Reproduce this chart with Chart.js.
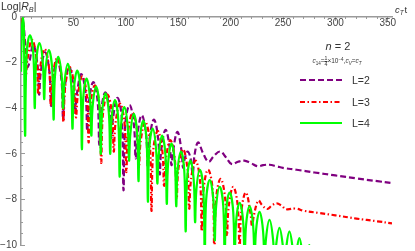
<!DOCTYPE html>
<html><head><meta charset="utf-8">
<script src="https://cdn.jsdelivr.net/npm/chart.js@4.4.0/dist/chart.umd.min.js"></script>
<style>
html,body{margin:0;padding:0;background:#fff;}
#wrap{position:relative;width:415px;height:251px;overflow:hidden;font-family:'Liberation Sans',Arial,sans-serif;color:#333;}
canvas{position:absolute;left:0;top:0;}
.t{position:absolute;white-space:nowrap;line-height:1;}
.sb{font-size:70%;position:relative;top:0.3em;}
.sp{font-size:70%;position:relative;top:-0.45em;}
.fr{display:inline-block;vertical-align:middle;text-align:center;font-size:80%;line-height:0.95;}
.fr span{display:block;}
.fr span.n{border-bottom:0.5px solid #333;}
</style></head><body>
<div id="wrap">
<canvas id="c" width="415" height="251"></canvas>
<div class="t" style="left:1px;top:1px;font-size:10.5px;">Log|<i>R</i><i class="sb">B</i>|</div>
<div class="t" style="left:395px;top:5px;font-size:9.5px;"><i>c</i><i class="sb">T</i>&#8202;t</div>
<div class="t" style="left:338px;top:41px;font-size:11px;transform:translateX(-50%);"><i>n</i> = 2</div>
<div class="t" style="left:337px;top:56px;font-size:6.5px;transform:translateX(-50%);"><i>c</i><span class="sb">14</span>=<span class="fr"><span class="n">1</span><span>4</span></span>×10<span class="sp">−4</span>,<i>c</i><i class="sb">V</i>=<i>c</i><i class="sb">T</i></div>
<div class="t" style="left:352px;top:75px;font-size:10.5px;">L=2</div>
<div class="t" style="left:352px;top:97px;font-size:10.5px;">L=3</div>
<div class="t" style="left:352px;top:118px;font-size:10.5px;">L=4</div>
</div>
<script>
const seriesNames = ['L=2', 'L=3', 'L=4'];

const tL2 = [0, 1.5, 3.0, 5.8,
  7.5, 11.6, 15.7, 17.3,
  18.9, 23.0, 27.1, 28.7,
  30.4, 34.5, 38.6, 40.2,
  41.9, 46.0, 50.1, 51.7,
  53.4, 57.5, 61.6, 63.2,
  64.9, 69.0, 73.1, 74.7,
  76.4, 80.5, 84.6, 86.2,
  87.9, 92.0, 96.1, 97.8,
  99.5, 103.6, 107.7, 109.4,
  111.1, 115.2, 119.3, 121.0,
  122.7, 126.8, 130.9, 132.4,
  133.9, 138.0, 142.1, 143.6,
  145.1, 149.2, 153.1, 154.6,
  156.3, 159.0, 161.8, 163.8,
  165.6, 169.0, 173.5, 179.0,
  184.0, 190.0, 195.5, 201.0,
  207.0, 213.0, 219.0, 226.0,
  231.0, 237.0, 244.0, 250.0, 263.0, 280.0, 300.0, 320.0, 340.0, 354.0];
const yL2 = [-0.5, -0.15, -0.6, -2.2,
  -2.08, -1.23, -2.08, -3.4,
  -2.40, -1.55, -2.40, -3.9,
  -2.75, -1.90, -2.75, -4.5,
  -3.05, -2.20, -3.05, -4.2,
  -3.35, -2.50, -3.35, -5.0,
  -3.70, -2.85, -3.70, -5.6,
  -4.15, -3.30, -4.15, -5.3,
  -4.40, -3.55, -4.40, -7.6,
  -4.71, -3.86, -4.71, -6.2,
  -5.15, -4.30, -5.15, -6.6,
  -5.35, -4.50, -5.35, -6.9,
  -5.80, -4.95, -5.80, -6.5,
  -5.89, -5.04, -5.85, -6.6,
  -6.20, -5.90, -6.20, -6.9,
  -6.05, -5.50, -5.95, -6.35,
  -6.10, -5.90, -6.15, -6.45,
  -6.35, -6.30, -6.40, -6.55,
  -6.50, -6.48, -6.55, -6.62, -6.70, -6.82, -6.95, -7.08, -7.20, -7.28];

const tL3 = [0, 1.2, 2.6, 4.6,
  6.2, 10.5, 14.8, 16.5,
  18.2, 22.5, 26.8, 28.5,
  30.2, 34.5, 38.8, 40.5,
  42.2, 46.5, 50.8, 52.5,
  54.2, 58.5, 62.8, 64.5,
  66.2, 70.5, 74.8, 76.5,
  78.2, 82.5, 86.8, 88.5,
  90.2, 94.5, 98.8, 100.5,
  102.2, 106.5, 110.8, 112.5,
  114.2, 118.5, 122.8, 124.5,
  126.2, 130.5, 134.8, 136.5,
  138.2, 142.5, 146.8, 148.5,
  150.2, 154.5, 158.8, 160.5,
  162.2, 166.5, 170.8, 172.5,
  174.2, 178.5, 182.8, 184.5,
  186.2, 190.5, 194.8, 196.5,
  198.2, 202.5, 206.8, 208.5,
  210.2, 214.5, 218.8, 220.5,
  222.2, 226.5, 230.0, 235.0,
  239.5, 244.0, 248.5, 253.0,
  262.0, 270.0, 285.0, 300.0, 320.0, 340.0, 354.0];
const yL3 = [-0.3, -0.1, -0.6, -2.6,
  -1.85, -1.00, -1.85, -3.4,
  -2.25, -1.40, -2.25, -3.9,
  -2.65, -1.80, -2.65, -4.6,
  -3.05, -2.20, -3.05, -4.4,
  -3.45, -2.60, -3.45, -5.5,
  -3.85, -3.00, -3.85, -6.4,
  -4.25, -3.40, -4.25, -5.9,
  -4.65, -3.80, -4.65, -6.8,
  -5.05, -4.20, -5.05, -6.6,
  -5.45, -4.60, -5.45, -8.5,
  -5.85, -5.00, -5.85, -7.4,
  -6.25, -5.40, -6.25, -8.0,
  -6.65, -5.80, -6.65, -8.4,
  -7.15, -6.30, -7.15, -9.4,
  -7.55, -6.70, -7.55, -10.5,
  -7.95, -7.10, -7.95, -9.6,
  -8.30, -7.45, -8.30, -10.5,
  -8.55, -7.70, -8.55, -9.2,
  -8.70, -8.05, -8.25, -8.42,
  -8.26, -8.17, -8.27, -8.43,
  -8.40, -8.50, -8.60, -8.70, -8.84, -8.96, -9.05];

const tL4 = [0, 0.9, 1.8, 2.7, 3.9,
  5.4, 8.6, 11.8, 13.1,
  14.4, 17.6, 20.8, 22.1,
  23.4, 26.6, 29.8, 31.1,
  32.4, 35.6, 38.8, 40.1,
  41.4, 44.6, 47.8, 49.1,
  50.4, 53.6, 56.8, 58.1,
  59.4, 62.6, 65.8, 67.1,
  68.4, 71.6, 74.8, 76.1,
  77.4, 80.6, 83.8, 85.1,
  86.4, 89.6, 92.8, 94.1,
  95.4, 98.6, 101.8, 103.1,
  104.4, 107.6, 110.8, 112.1,
  113.4, 116.6, 119.8, 121.1,
  122.4, 125.6, 128.8, 130.1,
  131.4, 134.6, 137.8, 139.1,
  140.4, 143.6, 146.8, 148.1,
  149.4, 152.6, 155.8, 157.1,
  158.4, 161.6, 164.8, 166.1,
  167.4, 170.6, 173.9, 175.35,
  176.7, 180.1, 183.5, 184.85,
  186.2, 189.6, 193.0, 194.35,
  195.7, 199.1, 202.5, 203.85,
  205.2, 208.6, 212.0, 213.35,
  214.7, 218.1, 221.5, 222.85,
  224.2, 227.6, 231.0, 232.35,
  233.7, 237.1, 240.5, 241.85,
  243.2, 246.6, 250.0, 251.35,
  252.7, 256.1, 259.5, 260.85,
  262.2, 265.6, 269.0, 270.35,
  271.7, 275.1, 278.5, 279.85];
const yL4 = [-2.4, -0.5, -0.03, -0.5, -5.2,
  -1.65, -0.80, -1.65, -4.0,
  -2.00, -1.15, -2.00, -3.6,
  -2.30, -1.45, -2.30, -4.5,
  -2.60, -1.75, -2.60, -4.0,
  -2.90, -2.05, -2.90, -4.9,
  -3.20, -2.35, -3.20, -5.8,
  -3.55, -2.70, -3.55, -5.2,
  -3.90, -3.05, -3.90, -6.0,
  -4.20, -3.35, -4.20, -6.0,
  -4.50, -3.65, -4.50, -7.0,
  -4.80, -3.95, -4.80, -6.3,
  -5.10, -4.25, -5.10, -7.2,
  -5.40, -4.55, -5.40, -8.1,
  -5.75, -4.90, -5.75, -7.3,
  -6.05, -5.20, -6.05, -8.2,
  -6.40, -5.55, -6.40, -8.3,
  -6.75, -5.90, -6.75, -9.4,
  -7.15, -6.30, -7.15, -9.0,
  -7.55, -6.70, -7.55, -10.6,
  -8.00, -7.15, -8.00, -9.8,
  -8.30, -7.45, -8.30, -11,
  -8.55, -7.70, -8.55, -11,
  -9.00, -8.15, -9.00, -11,
  -9.15, -8.30, -9.15, -11,
  -9.40, -8.55, -9.40, -11,
  -9.75, -8.90, -9.75, -11,
  -10.10, -9.25, -10.10, -11,
  -10.25, -9.40, -10.25, -11,
  -10.55, -9.70, -10.55, -11,
  -10.85, -10.0, -10.85, -11.5];

const xTickValues = [50, 100, 150, 200, 250, 300, 350];
const xTickLabels = ['50', '100', '150', '200', '250', '300', '350'];
const yTickValues = [0, -2, -4, -6, -8, -10];
const yTickLabels = ['0', '\u22122', '\u22124', '\u22126', '\u22128', '\u221210'];

function pts(ts, ys) {
  const n = Math.min(ts.length, ys.length), a = [];
  for (let i = 0; i < n; i++) a.push({x: ts[i], y: ys[i]});
  return a;
}

const FONT = "'Liberation Sans', Arial, sans-serif";
const AXC = '#9a9a9a';

const legendLines = {
  id: 'legendLines',
  afterDraw(chart) {
    const ctx = chart.ctx;
    const rows = [80, 102, 123];
    chart.data.datasets.forEach((ds, i) => {
      ctx.save();
      ctx.strokeStyle = ds.borderColor;
      ctx.lineWidth = ds.borderWidth;
      ctx.setLineDash(ds.borderDash || []);
      ctx.beginPath();
      ctx.moveTo(300, rows[i]);
      ctx.lineTo(342, rows[i]);
      ctx.stroke();
      ctx.restore();
    });
  }
};

function fitX(s) { s.height = 0; s.paddingLeft = 0; s.paddingRight = 0; s.paddingTop = 0; s.paddingBottom = 0; }
function fitY(w) { return function(s) { s.width = w; s.paddingTop = 0; s.paddingBottom = 0; s.paddingLeft = 0; s.paddingRight = 0; }; }

const common = {pointRadius: 0, pointHoverRadius: 0, tension: 0.4, fill: false, borderWidth: 2.2,
  borderCapStyle: 'butt', borderJoinStyle: 'round', xAxisID: 'x', yAxisID: 'y'};

new Chart(document.getElementById('c'), {
  type: 'line',
  data: {
    datasets: [
      Object.assign({label: seriesNames[0], data: pts(tL2, yL2), borderColor: '#800080', borderDash: [6, 3], order: 3}, common),
      Object.assign({label: seriesNames[1], data: pts(tL3, yL3), borderColor: '#ff0000', borderDash: [5, 2.5, 1.5, 2.5], order: 2}, common),
      Object.assign({label: seriesNames[2], data: pts(tL4, yL4), borderColor: '#00ff00', borderDash: [], order: 1}, common)
    ]
  },
  options: {
    responsive: false, animation: false, devicePixelRatio: 1,
    layout: {padding: {top: 17, right: 23, bottom: 6, left: 0}},
    plugins: {legend: {display: false}, tooltip: {enabled: false}},
    scales: {
      x: {type: 'linear', position: 'top', min: 0, max: 354, weight: 1,
        ticks: {stepSize: 50, autoSkip: false, includeBounds: false, mirror: true, padding: 0, maxRotation: 0,
          color: '#444', font: {family: FONT, size: 10},
          callback: v => { const i = xTickValues.indexOf(v); return i >= 0 ? xTickLabels[i] : ''; }},
        grid: {drawOnChartArea: false, drawTicks: true, tickLength: -4, tickColor: AXC, tickWidth: 1},
        border: {display: true, color: AXC, width: 1.5},
        afterFit: fitX},
      xm: {type: 'linear', position: 'top', min: 0, max: 354, weight: 0,
        ticks: {stepSize: 10, autoSkip: false, includeBounds: false, mirror: true, callback: () => ''},
        grid: {drawOnChartArea: false, drawTicks: true, tickLength: -2, tickColor: AXC, tickWidth: 1},
        border: {display: false},
        afterFit: fitX},
      y: {type: 'linear', position: 'left', min: -10, max: 0, weight: 1,
        ticks: {stepSize: 2, autoSkip: false, padding: 8, color: '#444', font: {family: FONT, size: 10},
          callback: v => { const i = yTickValues.indexOf(Math.round(v * 100) / 100); return i >= 0 ? yTickLabels[i] : ''; }},
        grid: {drawOnChartArea: false, drawTicks: true, tickLength: -4, tickColor: AXC, tickWidth: 1},
        border: {display: true, color: AXC, width: 1.5},
        afterFit: fitY(21)},
      ym: {type: 'linear', position: 'left', min: -10, max: 0, weight: 0,
        ticks: {stepSize: 0.5, autoSkip: false, callback: () => ''},
        grid: {drawOnChartArea: false, drawTicks: true, tickLength: -2, tickColor: AXC, tickWidth: 1},
        border: {display: false},
        afterFit: fitY(0)}
    }
  },
  plugins: [legendLines]
});
</script>
</body></html>
